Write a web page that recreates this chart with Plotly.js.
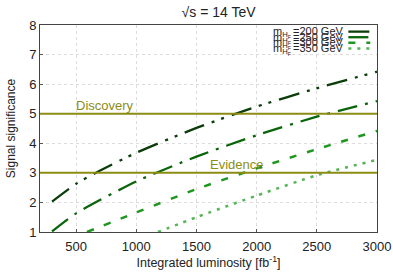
<!DOCTYPE html>
<html>
<head>
<meta charset="utf-8">
<script src="https://cdn.plot.ly/plotly-3.0.1.min.js"></script>
<style>html,body{margin:0;padding:0;background:#fff;}#chart{width:393px;height:275px;}</style>
</head>
<body>
<div id="chart"></div>
<script>
// ---- data ----
var seriesMass = ["200", "250", "300", "350"];
var lumi200 = [300, 500, 700, 1000, 1500, 2000, 2500, 3000];
var sig200  = [2.03, 2.63, 3.08, 3.68, 4.52, 5.24, 5.86, 6.42];
var lumi250 = [300, 500, 1000, 1500, 2000, 2500, 3000];
var sig250  = [1.02, 1.63, 2.71, 3.55, 4.27, 4.90, 5.43];
var lumi300 = [590, 1000, 1500, 2000, 2500, 3000];
var sig300  = [1.00, 1.66, 2.45, 3.15, 3.80, 4.42];
var lumi350 = [1180, 1500, 2000, 2500, 3000];
var sig350  = [1.00, 1.50, 2.23, 2.92, 3.44];
var thresholds = [5, 3];
var thresholdLabels = ["Discovery", "Evidence"];
var thresholdLabelX = [742, 1830];
var xTicks = [500, 1000, 1500, 2000, 2500, 3000];
var yTicks = [1, 2, 3, 4, 5, 6, 7, 8];

// ---- styles ----
var colors = ["#0b3d0b", "#0a640a", "#1f961f", "#55b455"];
var dashes = ["21px,8px,3px,7px,3px,8px", "20px,8px,3px,8px", "7px,11px", "3px,6px"];
var widths = [2.3, 2.3, 2.5, 2.5];
var olive = "#8c8c14";
var fam = "Liberation Sans, Arial, sans-serif";

var xs = [lumi200, lumi250, lumi300, lumi350];
var ys = [sig200, sig250, sig300, sig350];
var traces = xs.map(function (x, i) {
  return {
    x: x, y: ys[i], type: "scatter", mode: "lines",
    name: "m_HF=" + seriesMass[i] + " GeV",
    line: {color: colors[i], width: widths[i], dash: dashes[i], shape: "spline", smoothing: 0.6},
    showlegend: false, hoverinfo: "skip"
  };
});

var shapes = thresholds.map(function (t) {
  return {type: "line", xref: "paper", x0: 0, x1: 1, yref: "y", y0: t, y1: t,
          line: {color: olive, width: 2}};
});
var annotations = thresholds.map(function (t, i) {
  return {x: thresholdLabelX[i], y: t, xref: "x", yref: "y", text: thresholdLabels[i],
          showarrow: false, xanchor: "center", yanchor: "bottom", yshift: -1,
          font: {family: fam, size: 13, color: olive}};
});

// legend (drawn as annotation text + sample lines)
var legTop = [1.004, 0.977, 0.950, 0.923];
seriesMass.forEach(function (m, i) {
  annotations.push({xref: "paper", yref: "paper", x: 0.751, y: legTop[i],
    text: "m<sub>H<sub>F</sub></sub>", showarrow: false, xanchor: "right", yanchor: "top",
    borderpad: 0, font: {family: fam, size: 11, color: "#222"}});
  annotations.push({xref: "paper", yref: "paper", x: 0.906, y: legTop[i],
    text: "=" + m + " GeV", showarrow: false, xanchor: "right", yanchor: "top",
    borderpad: 0, font: {family: fam, size: 11, color: "#222"}});
  var ly = legTop[i] - 0.036;
  shapes.push({type: "line", xref: "paper", yref: "paper", x0: 0.915, x1: 0.98,
    y0: ly, y1: ly, line: {color: colors[i], width: widths[i], dash: dashes[i]}});
});

var layout = {
  width: 393, height: 275,
  margin: {l: 40, r: 16, t: 25, b: 43, pad: 0},
  paper_bgcolor: "#fff", plot_bgcolor: "#fff",
  font: {family: fam, size: 13, color: "#222"},
  title: {text: "√s = 14 TeV", x: 0.53, xref: "paper", y: 0.955, yanchor: "middle",
          font: {family: fam, size: 14, color: "#222"}},
  xaxis: {
    range: [200, 3000], tickvals: xTicks, ticks: "inside", ticklen: 3, tickcolor: "#555",
    showline: true, linecolor: "#444", linewidth: 1, mirror: true,
    showgrid: true, gridcolor: "#dcdcdc", griddash: "dot", gridwidth: 1, zeroline: false,
    tickfont: {size: 13}, ticklabelstandoff: 2,
    title: {text: "Integrated luminosity [fb<sup>-1</sup>]", font: {size: 12.5}, standoff: 3}
  },
  yaxis: {
    range: [1, 8], tickvals: yTicks, ticks: "inside", ticklen: 3, tickcolor: "#555",
    showline: true, linecolor: "#444", linewidth: 1, mirror: true,
    showgrid: true, gridcolor: "#dcdcdc", griddash: "dot", gridwidth: 1, zeroline: false,
    tickfont: {size: 13},
    title: {text: "Signal significance", font: {size: 12}, standoff: 10}
  },
  shapes: shapes,
  annotations: annotations,
  showlegend: false
};

Plotly.newPlot("chart", traces, layout, {staticPlot: true, displayModeBar: false});
</script>
</body>
</html>
